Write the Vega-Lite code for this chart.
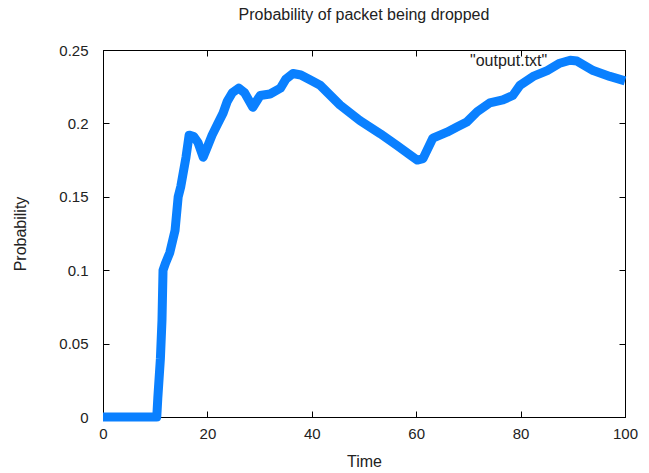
{
  "$schema": "https://vega.github.io/schema/vega-lite/v6.json",
  "width": 522,
  "height": 367,
  "autosize": {"type": "none"},
  "padding": {"left": 103, "top": 50, "right": 24, "bottom": 56},
  "background": "white",
  "title": {"text": "Probability of packet being dropped", "fontSize": 16, "font": "Liberation Sans", "fontWeight": "normal", "color": "#222", "offset": 20},
  "config": {
    "view": {"stroke": "black", "strokeWidth": 1},
    "axis": {"domainColor": "black", "tickColor": "black", "grid": false, "labelFont": "Liberation Sans", "titleFont": "Liberation Sans", "labelFontSize": 15, "titleFontSize": 16, "labelColor": "#222", "titleColor": "#222", "titleFontWeight": "normal", "tickSize": -6, "labelFlush": false}
  },
  "datasets": {
    "series": [
      {"t": 0, "p": 0}, {"t": 10.3, "p": 0}, {"t": 10.5, "p": 0.013}, {"t": 11.0, "p": 0.04},
      {"t": 11.3, "p": 0.066}, {"t": 11.5, "p": 0.1}, {"t": 12.0, "p": 0.105}, {"t": 12.8, "p": 0.112},
      {"t": 13.8, "p": 0.127}, {"t": 14.4, "p": 0.15}, {"t": 14.9, "p": 0.157}, {"t": 15.9, "p": 0.177},
      {"t": 16.5, "p": 0.192}, {"t": 17.4, "p": 0.191}, {"t": 18.2, "p": 0.187}, {"t": 19.2, "p": 0.177},
      {"t": 20.0, "p": 0.184}, {"t": 20.9, "p": 0.192}, {"t": 22.0, "p": 0.2}, {"t": 23.0, "p": 0.207},
      {"t": 23.8, "p": 0.215}, {"t": 24.8, "p": 0.221}, {"t": 26.0, "p": 0.224}, {"t": 27.1, "p": 0.221},
      {"t": 28.7, "p": 0.211}, {"t": 30.1, "p": 0.219}, {"t": 32.0, "p": 0.22}, {"t": 34.0, "p": 0.224},
      {"t": 35.0, "p": 0.23}, {"t": 36.4, "p": 0.234}, {"t": 37.9, "p": 0.233}, {"t": 40.0, "p": 0.229},
      {"t": 41.6, "p": 0.226}, {"t": 45.4, "p": 0.2125}, {"t": 49.2, "p": 0.202}, {"t": 53.1, "p": 0.193},
      {"t": 56.3, "p": 0.185}, {"t": 59.0, "p": 0.178}, {"t": 60.2, "p": 0.175}, {"t": 61.3, "p": 0.176},
      {"t": 63.2, "p": 0.19}, {"t": 65.9, "p": 0.194}, {"t": 67.8, "p": 0.1975}, {"t": 69.7, "p": 0.201},
      {"t": 71.7, "p": 0.208}, {"t": 74.1, "p": 0.214}, {"t": 76.6, "p": 0.216}, {"t": 78.5, "p": 0.219},
      {"t": 79.9, "p": 0.226}, {"t": 82.4, "p": 0.232}, {"t": 85.1, "p": 0.236}, {"t": 87.5, "p": 0.241},
      {"t": 89.5, "p": 0.243}, {"t": 90.8, "p": 0.2425}, {"t": 93.9, "p": 0.236}, {"t": 97.1, "p": 0.232},
      {"t": 100, "p": 0.229}
    ],
    "legend": [{"t": 85.1, "p": 0.2425, "label": "\"output.txt\""}]
  },
  "layer": [
    {
      "data": {"name": "series"},
      "mark": {"type": "line", "color": "#0a80ff", "strokeWidth": 9, "strokeJoin": "round", "strokeCap": "butt"},
      "encoding": {
        "x": {"field": "t", "type": "quantitative", "scale": {"domain": [0, 100], "nice": false},
              "axis": {"title": "Time", "values": [0, 20, 40, 60, 80, 100], "labelPadding": 15, "titlePadding": 12}},
        "y": {"field": "p", "type": "quantitative", "scale": {"domain": [0, 0.25], "nice": false, "zero": false},
              "axis": {"title": "Probability", "values": [0, 0.05, 0.1, 0.15, 0.2, 0.25], "format": "~g", "labelPadding": 21, "titlePadding": 30}}
      }
    },
    {
      "data": {"name": "legend"},
      "mark": {"type": "text", "align": "right", "baseline": "middle", "font": "Liberation Sans", "fontSize": 16, "color": "#222"},
      "encoding": {
        "x": {"field": "t", "type": "quantitative", "scale": {"domain": [0, 100], "nice": false},
              "axis": {"orient": "top", "values": [0, 20, 40, 60, 80, 100], "labels": false, "title": null, "domain": false}},
        "y": {"field": "p", "type": "quantitative", "scale": {"domain": [0, 0.25], "nice": false, "zero": false},
              "axis": {"orient": "right", "values": [0, 0.05, 0.1, 0.15, 0.2, 0.25], "labels": false, "title": null, "domain": false}},
        "text": {"field": "label"}
      }
    }
  ],
  "resolve": {"axis": {"x": "independent", "y": "independent"}}
}
